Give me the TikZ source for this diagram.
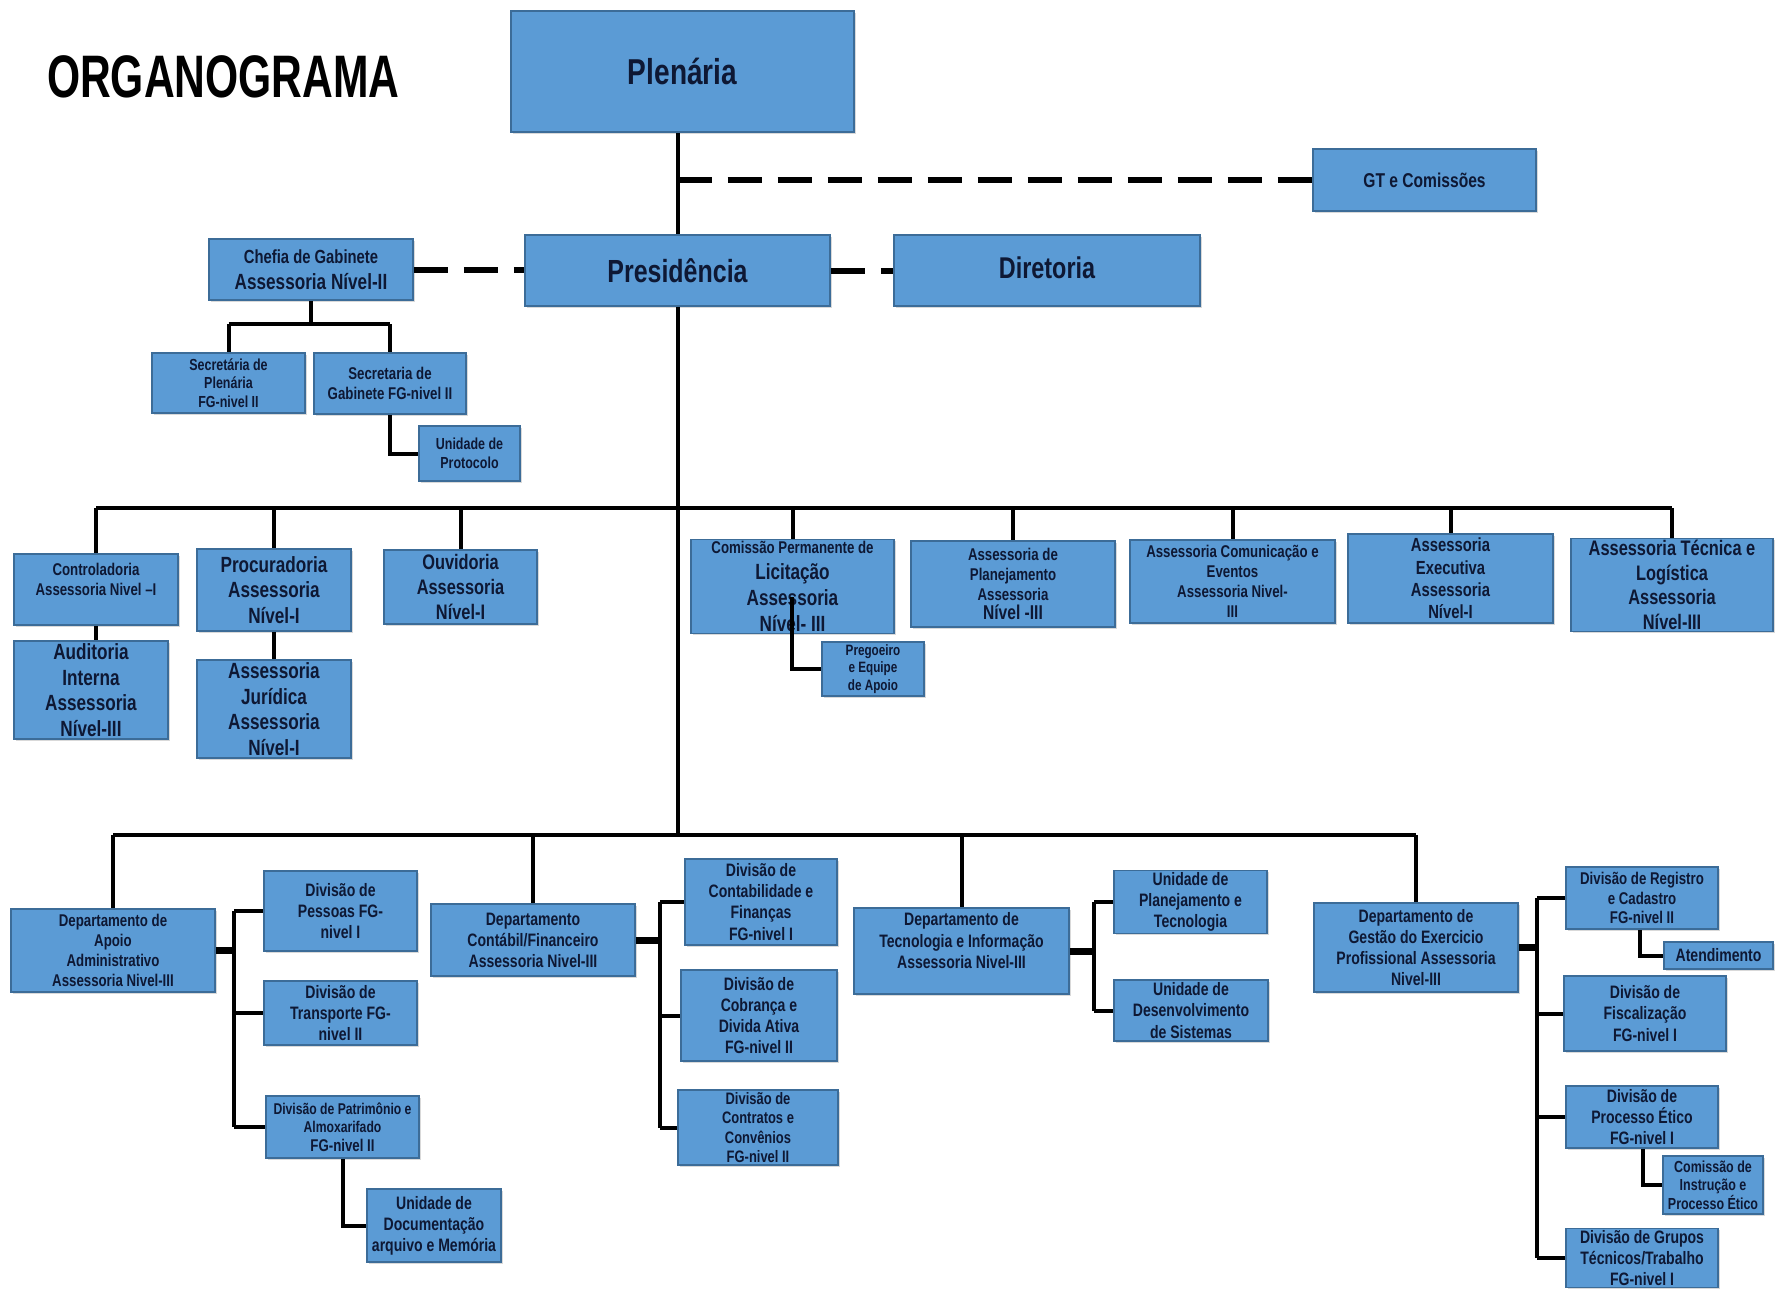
\documentclass[tikz,border=0pt]{standalone}
\usepackage{fontspec}
\setmainfont{Liberation Sans}[FakeStretch=0.78]
\newfontfamily\titlefont{Liberation Sans}[FakeStretch=0.71]
\usetikzlibrary{shadows}
\definecolor{boxfill}{RGB}{91,155,213}
\definecolor{boxline}{RGB}{60,108,152}
\definecolor{navy}{RGB}{14,24,52}
\newcommand\fs[1]{\pgfmathsetmacro\fsbs{#1*1.17}\fontsize{#1}{\fsbs}\selectfont}
\tikzset{
  box/.style={draw=boxline, fill=boxfill, line width=0.8pt, inner sep=1pt, align=center,
    text=navy, drop shadow={opacity=0.3, shadow xshift=0.9pt, shadow yshift=-0.9pt}},
  conn/.style={line width=2pt, black},
  stub/.style={line width=3.5pt, black},
  dashconn/.style={line width=3pt, black, dash pattern=on 17pt off 8pt}
}
\newcommand\bx[7]{%
  \pgfmathsetmacro\bxw{(#4-#2)*0.5}%
  \pgfmathsetmacro\bxh{(#5-#3)*0.5}%
  \node[box, minimum width=\bxw pt, minimum height=\bxh pt, font=\bfseries\fs{#6}] (#1) at ({(#2+#4)/2},{(#3+#5)/2}) {#7};}
\begin{document}
\begin{tikzpicture}[x=0.5pt,y=-0.5pt]
\useasboundingbox (0,0) rectangle (1775,1289);
\node[anchor=west, font=\titlefont\bfseries\fs{30}, text=black] (title) at (40,77) {ORGANOGRAMA};

\bx{ple}{511}{11}{854}{132}{18}{Plenária}
\bx{gt}{1313}{149}{1536}{211}{10}{GT e Comissões}
\bx{chefia}{209}{239}{413}{300}{11}{{\fs{9.5}Chefia de Gabinete}\\Assessoria Nível-II}
\bx{pres}{525}{235}{830}{306}{16}{Presidência}
\bx{dir}{894}{235}{1200}{306}{15}{\raisebox{3pt}{Diretoria}}
\bx{sp}{152}{353}{305}{413}{8}{Secretária de\\Plenária\\FG-nivel II}
\bx{sg}{314}{353}{466}{414}{8.5}{Secretaria de\\Gabinete FG-nivel II}
\bx{prot}{419}{426}{520}{481}{8}{Unidade de\\Protocolo}
\bx{ctrl}{14}{554}{178}{625}{8.5}{Controladoria\\Assessoria Nivel –I\\ \mbox{}}
\bx{aud}{14}{641}{168}{739}{11}{Auditoria\\Interna\\Assessoria\\Nível-III}
\bx{proc}{197}{549}{351}{631}{11}{Procuradoria\\Assessoria\\Nível-I}
\bx{jur}{197}{660}{351}{758}{11}{Assessoria\\Jurídica\\Assessoria\\Nível-I}
\bx{ouv}{384}{550}{537}{624}{10.5}{Ouvidoria\\Assessoria\\Nível-I}
\bx{lic}{691}{540}{894}{633}{11}{{\fs{8.5}Comissão Permanente de}\\Licitação\\Assessoria\\Nível- III}
\bx{preg}{822}{642}{924}{696}{7.5}{Pregoeiro\\e Equipe\\de Apoio}
\bx{aplan}{911}{541}{1115}{627}{8.5}{Assessoria de\\Planejamento\\Assessoria\\{\fs{10}Nível -III}}
\bx{acom}{1130}{540}{1335}{623}{8.5}{Assessoria Comunicação e\\Eventos\\Assessoria Nivel-\\III}
\bx{aexe}{1348}{534}{1553}{623}{9.5}{Assessoria\\Executiva\\Assessoria\\Nível-I}
\bx{atec}{1571}{539}{1773}{631}{10.5}{Assessoria Técnica e\\Logística\\Assessoria\\Nível-III}
\bx{apoio}{11}{909}{215}{992}{8.5}{Departamento de\\Apoio\\Administrativo\\Assessoria Nivel-III}
\bx{pes}{264}{871}{417}{951}{9}{Divisão de\\Pessoas FG-\\nivel I}
\bx{tra}{264}{981}{417}{1045}{9}{Divisão de\\Transporte FG-\\nivel II}
\bx{pat}{266}{1096}{419}{1158}{7.8}{Divisão de Patrimônio e\\Almoxarifado\\{\fs{8.5}FG-nivel II}}
\bx{doc}{367}{1189}{501}{1262}{9}{Unidade de\\Documentação\\arquivo e Memória}
\bx{contd}{431}{904}{635}{976}{9}{Departamento\\Contábil/Financeiro\\Assessoria Nivel-III}
\bx{dcf}{685}{859}{837}{945}{9}{Divisão de\\Contabilidade e\\Finanças\\FG-nivel I}
\bx{dcob}{681}{970}{837}{1061}{9}{Divisão de\\Cobrança e\\Divida Ativa\\FG-nivel II}
\bx{dcon}{678}{1090}{838}{1165}{8.3}{Divisão de\\Contratos e\\Convênios\\FG-nivel II}
\bx{tecd}{854}{908}{1069}{994}{9}{Departamento de\\Tecnologia e Informação\\Assessoria Nivel-III\\ \mbox{}}
\bx{upt}{1114}{871}{1267}{933}{9}{Unidade de\\Planejamento e\\Tecnologia}
\bx{uds}{1114}{980}{1268}{1041}{9}{Unidade de\\Desenvolvimento\\de Sistemas}
\bx{gest}{1314}{903}{1518}{992}{9}{Departamento de\\Gestão do Exercicio\\Profissional Assessoria\\Nivel-III}
\bx{reg}{1566}{867}{1718}{929}{8.5}{Divisão de Registro\\e Cadastro\\FG-nivel II}
\bx{ate}{1664}{942}{1773}{969}{9}{Atendimento}
\bx{fis}{1564}{976}{1726}{1051}{9}{Divisão de\\Fiscalização\\FG-nivel I}
\bx{pet}{1566}{1086}{1718}{1148}{9}{Divisão de\\Processo Ético\\FG-nivel I}
\bx{cip}{1663}{1156}{1763}{1214}{8}{Comissão de\\Instrução e\\Processo Ético}
\bx{grp}{1566}{1229}{1718}{1287}{9}{Divisão de Grupos\\Técnicos/Trabalho\\FG-nivel I}

% helper coordinates
\coordinate (busA) at (0,508);
\coordinate (busB) at (0,835);
\coordinate (chb) at (0,324);
\coordinate (spA) at (234,0);
\coordinate (spC) at (660,0);
\coordinate (spT) at (1094,0);
\coordinate (spG) at (1537,0);
\coordinate (xd) at (343,0);
\coordinate (xr) at (1640,0);
\coordinate (xp) at (1643,0);
\coordinate (licin) at (792,597);

% top
\draw[conn] (pres.north |- ple.south) -- (pres.north);
\draw[dashconn] (pres.north |- gt.west) -- (gt.west);
\draw[dashconn] (chefia.east) -- (pres.west |- chefia.east);
\draw[dashconn] (pres.east) -- (dir.west |- pres.east);

% chefia
\draw[conn] (chefia.south) -- (chefia.south |- chb);
\draw[conn] (sp.north |- chb) -- (sg.north |- chb);
\draw[conn] (sp.north |- chb) -- (sp.north);
\draw[conn] (sg.north |- chb) -- (sg.north);
\draw[conn] (sg.south) |- (prot.west);

% trunk and assessorias
\draw[conn] (pres.south) -- (pres.south |- busB);
\draw[conn] (ctrl.north |- busA) -- (atec.north |- busA);
\foreach \n in {ctrl,proc,ouv,lic,aplan,acom,aexe,atec}
  \draw[conn] (\n.north |- busA) -- (\n.north);
\draw[conn] (ctrl.south) -- (aud.north -| ctrl.south);
\draw[conn] (proc.south) -- (jur.north);
\draw[conn] (licin) |- (preg.west);

% departments
\draw[conn] (apoio.north |- busB) -- (gest.north |- busB);
\foreach \n in {apoio,contd,tecd,gest}
  \draw[conn] (\n.north |- busB) -- (\n.north);

% apoio
\draw[stub] (apoio.east) -- (spA |- apoio.east);
\draw[conn] (spA |- pes.west) -- (spA |- pat.west);
\foreach \n in {pes,tra,pat} \draw[conn] (spA |- \n.west) -- (\n.west);
\draw[conn] (xd |- pat.south) |- (doc.west);

% contabil
\draw[stub] (contd.east) -- (spC |- contd.east);
\draw[conn] (spC |- dcf.west) -- (spC |- dcon.west);
\foreach \n in {dcf,dcob,dcon} \draw[conn] (spC |- \n.west) -- (\n.west);

% tecnologia
\draw[stub] (tecd.east) -- (spT |- tecd.east);
\draw[conn] (spT |- upt.west) -- (spT |- uds.west);
\foreach \n in {upt,uds} \draw[conn] (spT |- \n.west) -- (\n.west);

% gestao
\draw[stub] (gest.east) -- (spG |- gest.east);
\draw[conn] (spG |- reg.west) -- (spG |- grp.west);
\foreach \n in {reg,fis,pet,grp} \draw[conn] (spG |- \n.west) -- (\n.west);
\draw[conn] (xr |- reg.south) |- (ate.west);
\draw[conn] (xp |- pet.south) |- (cip.west);
\end{tikzpicture}
\end{document}
